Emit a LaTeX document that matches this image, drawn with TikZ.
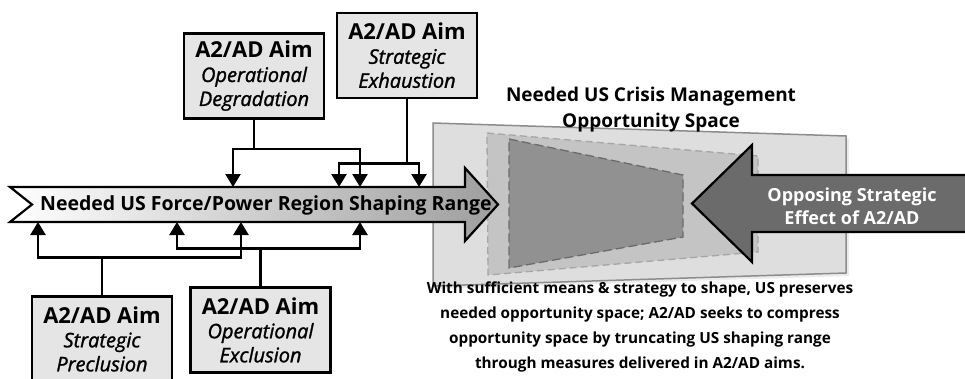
\documentclass[tikz,border=0pt]{standalone}
\usepackage{fontspec}
\setmainfont{Open Sans}
\newfontfamily\aimfont[FakeBold=1.4]{Open Sans}
\usetikzlibrary{arrows.meta}
\newcommand{\aimhead}{{\fontsize{22}{24}\selectfont\normalfont\upshape\bfseries A2/AD Aim}}
\begin{document}
\begin{tikzpicture}%
	[x=1pt, y=-1pt,
	aimbox/.style={draw=black, line width=2.5pt, fill=black!10, minimum width=140pt, minimum height=85pt, inner sep=0pt, align=center, font=\fontsize{20}{24}\selectfont\aimfont\itshape},
	link/.style={line width=2.5pt, -{Triangle[length=13pt, width=15pt]}},
	plate/.style={fill=black!13, draw=black!45, line width=1.5pt},
	midplate/.style={fill=black!23, draw=black!35, line width=1.3pt, dash pattern=on 7pt off 4pt},
	coreplate/.style={fill=black!43, draw=black!58, line width=1.3pt, dash pattern=on 9pt off 4pt},
	rangearrow/.style={draw=black, line width=2.2pt, left color=white, right color=black!38},
	opparrow/.style={draw=black, line width=2.2pt, fill=black!58}]
%
\useasboundingbox (0,0) rectangle (965,378);
%%
%% Opportunity space in the back
%%
\fill[black!8] (436,126) -- (849,139) -- (849,276) -- (436,289) -- cycle;
\draw[plate] (433,123) -- (846,136) -- (846,273) -- (433,286) -- cycle;
\draw[midplate] (487,133) -- (758,156) -- (758,252) -- (488,275) -- cycle;
\draw[coreplate] (509,139) -- (683,175) -- (683,237) -- (509,268) -- cycle;
\node[font=\fontsize{19}{26}\selectfont\bfseries, align=center] (space) at (651,110) {Needed US Crisis Management\\Opportunity Space};
%%
%% Shaping range arrow
%%
\draw[rangearrow] (10,187) -- (465,187) -- (465,168) -- (498,204.5) -- (465,241) -- (465,222) -- (10,222) -- (32,204.5) -- cycle;
\node[font=\fontsize{19.5}{20}\selectfont\bfseries, anchor=base west, inner sep=0pt] (range) at (40,210) {Needed US Force/Power Region Shaping Range};
%%
%% Opposing arrow
%%
\draw[opparrow] (975,175) -- (752,175) -- (752,145) -- (692,203.5) -- (752,262) -- (752,232) -- (975,232);
\node[font=\fontsize{18}{23}\selectfont\bfseries, text=white, align=center] (opp) at (852,206) {Opposing Strategic\\Effect of A2/AD};
%%
%% A2/AD aims
%%
\node[aimbox] (degr) at (254,76) {\aimhead\\Operational\\Degradation};
\node[aimbox] (exh) at (407,55.5) {\aimhead\\Strategic\\Exhaustion};
\node[aimbox] (precl) at (102,339) {\aimhead\\Strategic\\Preclusion};
\node[aimbox] (excl) at (260.5,330) {\aimhead\\Operational\\Exclusion};
%%
%% Where the aims hit the range
%%
\coordinate (top1) at (233,187);
\coordinate (top2) at (339,187);
\coordinate (top3) at (360,187);
\coordinate (top4) at (419,187);
\coordinate (bot1) at (38,222);
\coordinate (bot2) at (177,222);
\coordinate (bot3) at (241,222);
\coordinate (bot4) at (360,222);
%
\draw[link] (degr.south) -- ++(0,29) -| (top1);
\draw[link] (degr.south) -- ++(0,29) -| (top3);
\draw[link] (exh.south) -- ++(0,64) -| (top2);
\draw[link] (exh.south) -- ++(0,64) -| (top4);
\draw[link] (precl.north) -- ++(0,-38) -| (bot1);
\draw[link] (precl.north) -- ++(0,-38) -| (bot3);
\draw[link] (excl.north) -- ++(0,-38) -| (bot2);
\draw[link] (excl.north) -- ++(0,-38) -| (bot4);
%%
%% Caption
%%
\node[font=\fontsize{15.3}{25}\selectfont\bfseries, align=center] (note) at (640,327) {With sufficient means \& strategy to shape, US preserves\\needed opportunity space; A2/AD seeks to compress\\opportunity space by truncating US shaping range\\through measures delivered in A2/AD aims.};

\end{tikzpicture}
\end{document}
